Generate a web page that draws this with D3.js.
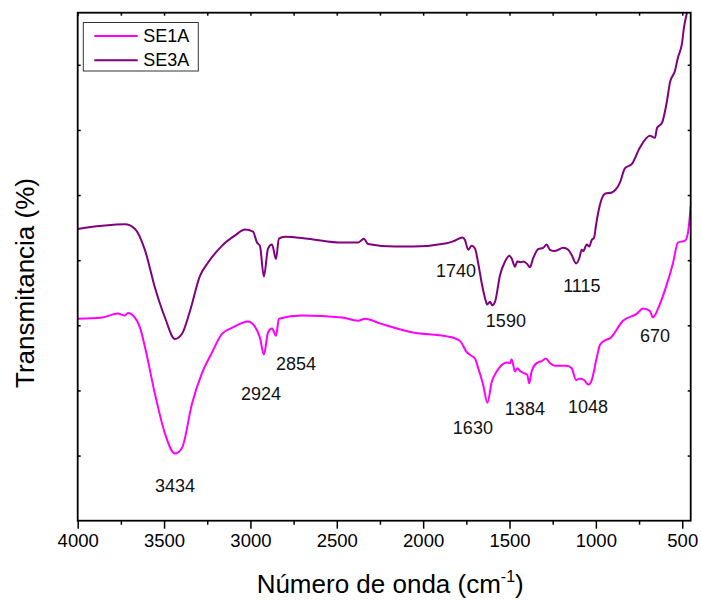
<!DOCTYPE html>
<html>
<head>
<meta charset="utf-8">
<script src="https://cdn.jsdelivr.net/npm/d3@7"></script>
<style>
  html, body { margin: 0; padding: 0; background: #fff; }
  svg { display: block; font-family: Arial, "Liberation Sans", sans-serif; }
</style>
</head>
<body>
<svg id="chart" width="701" height="601"></svg>
<script>
// FTIR spectra: wavenumber (cm-1) and transmittance (arbitrary %T offset)
const seriesNames = ["SE1A", "SE3A"];
const seriesColors = ["#ff00ff", "#800080"];

const se1aWave = [4000, 3859, 3767, 3726, 3709, 3657, 3639, 3610, 3553, 3495, 3437, 3396, 3338, 3280, 3223, 3165, 3107, 3014, 2974, 2945, 2922, 2898, 2875, 2852, 2835, 2702, 2470, 2377, 2337, 2250, 2059, 1862, 1787, 1748, 1719, 1700, 1681, 1652, 1628, 1603, 1574, 1545, 1517, 1497, 1488, 1468, 1455, 1435, 1411, 1397, 1386, 1372, 1343, 1314, 1289, 1266, 1237, 1169, 1140, 1115, 1092, 1069, 1044, 1024, 996, 976, 947, 918, 843, 762, 727, 687, 670, 629, 588, 554, 525, 484, 467, 455, 451];
const se1aT = [31.0, 31.2, 31.8, 31.5, 31.9, 30.7, 29.6, 26.6, 19.5, 13.4, 10.3, 11.2, 18.0, 22.7, 25.8, 28.7, 29.6, 30.6, 29.8, 28.1, 25.5, 28.9, 29.5, 28.4, 31.0, 31.5, 31.2, 30.7, 31.0, 30.3, 28.9, 28.3, 27.6, 25.9, 25.3, 24.9, 23.4, 20.8, 18.1, 21.3, 22.9, 23.9, 24.3, 24.2, 24.8, 22.9, 23.4, 22.9, 22.6, 22.4, 21.1, 22.9, 24.2, 24.5, 24.9, 24.2, 23.8, 23.8, 23.4, 21.6, 21.8, 21.6, 20.9, 21.6, 24.9, 27.0, 27.7, 28.0, 30.7, 31.8, 32.6, 32.2, 31.2, 33.3, 36.4, 39.5, 42.7, 43.0, 44.2, 47.1, 48.4];

const se3aWave = [4000, 3726, 3668, 3610, 3553, 3495, 3437, 3396, 3350, 3292, 3246, 3165, 3089, 3031, 2985, 2962, 2945, 2922, 2898, 2875, 2852, 2835, 2800, 2667, 2470, 2377, 2343, 2320, 2163, 2059, 1863, 1826, 1771, 1758, 1739, 1719, 1700, 1681, 1661, 1642, 1629, 1613, 1600, 1584, 1555, 1526, 1501, 1488, 1468, 1455, 1435, 1420, 1397, 1382, 1363, 1334, 1305, 1285, 1266, 1237, 1189, 1160, 1140, 1115, 1096, 1082, 1073, 1053, 1038, 1024, 1011, 999, 988, 947, 907, 861, 832, 791, 745, 687, 658, 646, 617, 588, 571, 542, 525, 502, 490, 473, 455];
const se3aT = [44.8, 45.5, 44.8, 41.5, 35.8, 31.2, 27.9, 28.7, 32.2, 37.6, 39.6, 42.2, 43.8, 44.7, 44.4, 42.7, 42.2, 37.5, 41.8, 42.4, 40.2, 43.3, 43.6, 43.3, 42.7, 42.7, 43.3, 42.5, 42.1, 42.1, 42.6, 42.9, 43.5, 43.1, 41.6, 42.2, 41.8, 39.5, 36.5, 34.2, 33.2, 33.6, 33.1, 33.6, 37.7, 39.8, 40.7, 40.3, 39.0, 39.8, 39.7, 39.8, 39.4, 38.9, 40.3, 41.7, 41.9, 42.4, 41.6, 41.4, 41.9, 41.6, 40.8, 39.5, 40.3, 41.6, 41.4, 42.4, 42.1, 43.1, 43.4, 45.4, 47.1, 50.2, 50.4, 51.9, 54.1, 54.8, 57.3, 59.1, 58.8, 60.3, 61.1, 64.5, 67.3, 69.1, 71.1, 73.2, 75.7, 78.0, 80.6];

// Band annotations: label, wavenumber and transmittance of the text centre
const bandLabels = ["3434", "2924", "2854", "1740", "1590", "1115", "1630", "1384", "1048", "670"];
const bandWave = [3437, 2939, 2736, 1810, 1521, 1081, 1712, 1411, 1046, 658];
const bandT = [5.4, 19.5, 24.1, 38.4, 30.7, 36.1, 14.3, 17.2, 17.4, 28.3];

const majorTicks = [4000, 3500, 3000, 2500, 2000, 1500, 1000, 500];
const minorTicks = [3750, 3250, 2750, 2250, 1750, 1250, 750];
const yTicks = [10, 20, 30, 40, 50, 60, 70];

const xLabel = "Número de onda (cm";
const yLabel = "Transmitancia (%)";

const svg = d3.select("#chart");
const plotL = 77.7, plotR = 690.7, plotT = 12.7, plotB = 520.7;

const x = d3.scaleLinear().domain([4000, 451]).range([plotL, plotR]);
const y = d3.scaleLinear().domain([0, 78]).range([plotB, plotT]);

svg.append("defs").append("clipPath").attr("id", "plotClip")
  .append("rect").attr("x", plotL).attr("y", plotT)
  .attr("width", plotR - plotL).attr("height", plotB - plotT);

const line = d3.line()
  .x(d => x(d[0]))
  .y(d => y(d[1]))
  .curve(d3.curveMonotoneX);

const series = [
  d3.zip(se1aWave, se1aT),
  d3.zip(se3aWave, se3aT)
];

const plot = svg.append("g").attr("clip-path", "url(#plotClip)");
series.forEach((pts, i) => {
  plot.append("path")
    .datum(pts)
    .attr("fill", "none")
    .attr("stroke", seriesColors[i])
    .attr("stroke-width", 2)
    .attr("stroke-linejoin", "round")
    .attr("d", line);
});

// Axes: labelled bottom axis, tick-only mirrors on the other sides
function styleAxis(g) {
  g.selectAll(".domain").remove();
  g.selectAll(".tick line").attr("stroke", "#000").attr("stroke-width", 1.5);
}

svg.append("g").attr("transform", `translate(0,${plotB})`)
  .call(d3.axisBottom(x).tickValues(majorTicks).tickSize(8).tickPadding(5).tickFormat(d3.format("d")))
  .call(styleAxis)
  .call(g => g.selectAll("text").attr("font-size", 18.5).attr("fill", "#000")
    .attr("font-family", "Arial, 'Liberation Sans', sans-serif"));

svg.append("g").attr("transform", `translate(0,${plotB})`)
  .call(d3.axisBottom(x).tickValues(minorTicks).tickSize(4).tickFormat(""))
  .call(styleAxis);

svg.append("g").attr("transform", `translate(0,${plotT})`)
  .call(d3.axisTop(x).tickValues(majorTicks.concat(minorTicks)).tickSize(-3).tickFormat(""))
  .call(styleAxis);

svg.append("g").attr("transform", `translate(${plotL},0)`)
  .call(d3.axisLeft(y).tickValues(yTicks).tickSize(-3).tickFormat(""))
  .call(styleAxis);

svg.append("g").attr("transform", `translate(${plotR},0)`)
  .call(d3.axisRight(y).tickValues(yTicks).tickSize(-3).tickFormat(""))
  .call(styleAxis);

// Frame
svg.append("rect")
  .attr("x", plotL).attr("y", plotT)
  .attr("width", plotR - plotL).attr("height", plotB - plotT)
  .attr("fill", "none").attr("stroke", "#000").attr("stroke-width", 1.8);

// Band labels
svg.append("g").selectAll("text")
  .data(bandLabels)
  .join("text")
  .attr("x", (d, i) => x(bandWave[i]))
  .attr("y", (d, i) => y(bandT[i]))
  .attr("text-anchor", "middle")
  .attr("dominant-baseline", "central")
  .attr("font-size", 18)
  .attr("fill", "#111")
  .text(d => d);

// Legend
const legend = svg.append("g");
legend.append("rect")
  .attr("x", 83.3).attr("y", 22.5).attr("width", 115).attr("height", 48.5)
  .attr("fill", "#fff").attr("stroke", "#333").attr("stroke-width", 1);
seriesNames.forEach((name, i) => {
  const ly = 36 + i * 24.3;
  legend.append("line")
    .attr("x1", 94.3).attr("x2", 137.7).attr("y1", ly).attr("y2", ly)
    .attr("stroke", seriesColors[i]).attr("stroke-width", 2);
  legend.append("text")
    .attr("x", 143.3).attr("y", ly)
    .attr("dominant-baseline", "central")
    .attr("font-size", 18).attr("fill", "#000")
    .text(name);
});

// Axis titles
const xt = svg.append("text")
  .attr("x", (plotL + plotR) / 2 + 6).attr("y", 593)
  .attr("text-anchor", "middle")
  .attr("font-size", 26).attr("fill", "#000");
xt.append("tspan").text(xLabel);
xt.append("tspan").attr("font-size", 16).attr("dy", -11).text("-1");
xt.append("tspan").attr("dy", 11).text(")");

svg.append("text")
  .attr("transform", "translate(34,283) rotate(-90)")
  .attr("text-anchor", "middle")
  .attr("font-size", 26).attr("fill", "#000")
  .text(yLabel);
</script>
</body>
</html>
